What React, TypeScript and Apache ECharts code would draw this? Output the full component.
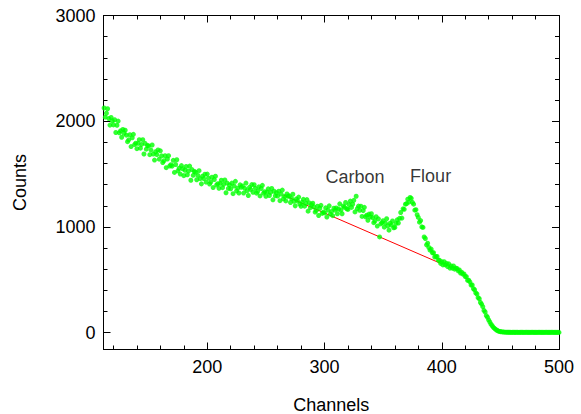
import React, { useEffect, useRef } from "react";
import * as echarts from "echarts";

const firstChannel = 112;
const counts: number[] = [
  // 112-119
  2125, 2038, 2075, 2118, 2025, 1963, 2035, 2003,
  // 120-129
  1965, 2014, 1893, 1962, 2001, 1890, 1909, 1848, 1922, 1886,
  // 130-139
  1915, 1868, 1806, 1824, 1872, 1760, 1843, 1876, 1779, 1792,
  // 140-149
  1740, 1790, 1825, 1745, 1780, 1825, 1690, 1790, 1735, 1770,
  // 150-159
  1765, 1683, 1727, 1775, 1689, 1632, 1711, 1684, 1728, 1641,
  // 160-169
  1720, 1672, 1609, 1626, 1673, 1560, 1642, 1674, 1576, 1588,
  // 170-179
  1575, 1630, 1515, 1590, 1635, 1530, 1555, 1500, 1580, 1550,
  // 180-189
  1485, 1536, 1572, 1493, 1529, 1575, 1441, 1542, 1488, 1524,
  // 190-199
  1517, 1446, 1487, 1532, 1456, 1407, 1480, 1457, 1498, 1423,
  // 200-209
  1500, 1460, 1406, 1424, 1470, 1372, 1448, 1480, 1396, 1409,
  // 210-219
  1365, 1411, 1442, 1371, 1403, 1444, 1323, 1414, 1364, 1397,
  // 220-229
  1361, 1414, 1314, 1386, 1431, 1341, 1366, 1321, 1398, 1375,
  // 230-239
  1387, 1320, 1365, 1414, 1342, 1297, 1374, 1355, 1400, 1328,
  // 240-249
  1399, 1365, 1319, 1337, 1379, 1293, 1363, 1393, 1319, 1333,
  // 250-259
  1290, 1331, 1360, 1297, 1326, 1363, 1256, 1337, 1294, 1323,
  // 260-269
  1292, 1338, 1248, 1310, 1348, 1266, 1288, 1246, 1312, 1290,
  // 270-279
  1294, 1231, 1268, 1309, 1242, 1199, 1264, 1245, 1282, 1215,
  // 280-289
  1195, 1234, 1261, 1196, 1223, 1258, 1149, 1228, 1183, 1210,
  // 290-299
  1224, 1188, 1140, 1156, 1196, 1108, 1176, 1204, 1128, 1140,
  // 300-309
  1132, 1180, 1093, 1158, 1199, 1120, 1145, 1106, 1176, 1158,
  // 310-319
  1179, 1124, 1169, 1218, 1159, 1124, 1197, 1186, 1231, 1172,
  // 320-329
  1165, 1211, 1244, 1184, 1214, 1251, 1142, 1290, 1173, 1197,
  // 330-339
  1157, 1196, 1099, 1154, 1185, 1096, 1111, 1062, 1121, 1093,
  // 340-349
  1124, 1088, 1040, 1056, 1096, 1008, 1076, 905, 1028, 1040,
  // 350-359
  1059, 997, 1035, 1077, 1011, 969, 1035, 1017, 1056, 992,
  // 360-369
  995, 1033, 1067, 1037, 1081, 1136, 1083, 1171, 1166, 1215,
  // 370-379
  1220, 1262, 1235, 1278, 1270, 1232, 1215, 1158, 1163, 1115,
  // 380-389
  1090, 1045, 1060, 1000, 995, 905, 890, 830, 845, 805,
  // 390-399
  780, 790, 755, 755, 715, 720, 720, 685, 685, 655,
  // 400-409
  670, 640, 670, 640, 655, 625, 650, 610, 630, 610,
  // 410-419
  630, 600, 610, 607, 585, 592, 564, 571, 553, 555,
  // 420-429
  530, 530, 495, 495, 480, 450, 450, 415, 405, 375,
  // 430-439
  365, 330, 320, 285, 270, 245, 210, 195, 160, 145,
  // 440-449
  120, 100, 80, 65, 50, 40, 30, 22, 16, 11,
  // 450-459
  9, 7, 6, 5, 4, 4, 3, 3, 3, 2,
  // 460-469
  2, 3, 2, 2, 3, 2, 2, 2, 3, 2,
  // 470-479
  2, 2, 3, 2, 2, 2, 2, 3, 2, 2,
  // 480-489
  2, 2, 2, 3, 2, 2, 2, 2, 2, 3,
  // 490-500
  2, 2, 2, 2, 3, 2, 2, 2, 2, 2, 2,
];

const baselineChannels = [265, 399];
const baselineCounts = [1300, 655];

const peakLabels = ["Carbon", "Flour"];
const peakLabelChannels = [326, 390.5];
const peakLabelCounts = [1470, 1478];

const xMajorTicks = [200, 300, 400, 500];
const xMinorTicks = [120, 140, 160, 180, 220, 240, 260, 280, 320, 340, 360, 380, 420, 440, 460, 480];
const yMajorTicks = [0, 1000, 2000, 3000];
const yMinorTicks = [200, 400, 600, 800, 1200, 1400, 1600, 1800, 2200, 2400, 2600, 2800];

const X_MIN = 111.5;
const X_MAX = 500;
const Y_MIN = -160;
const Y_MAX = 3000;

const FONT = "'Liberation Sans', Arial, Helvetica, sans-serif";

export default function App() {
  const ref = useRef<HTMLDivElement>(null);

  useEffect(() => {
    if (!ref.current) return;
    const chart = echarts.init(ref.current, undefined, { renderer: "svg" });

    const points = counts.map((c, i) => [firstChannel + i, c]);
    const baseline = baselineChannels.map((ch, i) => [ch, baselineCounts[i]]);
    const labels = peakLabels.map((name, i) => ({
      value: [peakLabelChannels[i], peakLabelCounts[i]],
      name,
    }));

    const lineStyle = { color: "#000", width: 1 };
    const plain = (v: number) => String(v);

    const mkX = (position: string, major: boolean, showLine: boolean, withLabel: boolean) => ({
      type: "value",
      position,
      min: X_MIN,
      max: X_MAX,
      gridIndex: 0,
      axisLine: { show: showLine, onZero: false, lineStyle },
      axisTick: {
        show: true,
        inside: true,
        length: major ? 7 : 4,
        customValues: major ? xMajorTicks : xMinorTicks,
        lineStyle,
      },
      axisLabel: withLabel
        ? {
            show: true,
            customValues: xMajorTicks,
            formatter: plain,
            fontSize: 18,
            color: "#000",
            fontFamily: FONT,
            margin: 8,
          }
        : { show: false },
      splitLine: { show: false },
      ...(withLabel
        ? {
            name: "Channels",
            nameLocation: "middle",
            nameGap: 46,
            nameTextStyle: { fontSize: 18, color: "#000", fontFamily: FONT },
          }
        : {}),
    });

    const mkY = (position: string, major: boolean, showLine: boolean, withLabel: boolean) => ({
      type: "value",
      position,
      min: Y_MIN,
      max: Y_MAX,
      gridIndex: 0,
      axisLine: { show: showLine, onZero: false, lineStyle },
      axisTick: {
        show: true,
        inside: true,
        length: major ? 7 : 4,
        customValues: major ? yMajorTicks : yMinorTicks,
        lineStyle,
      },
      axisLabel: withLabel
        ? {
            show: true,
            customValues: yMajorTicks,
            formatter: plain,
            fontSize: 18,
            color: "#000",
            fontFamily: FONT,
            margin: 8,
          }
        : { show: false },
      splitLine: { show: false },
      ...(withLabel
        ? {
            name: "Counts",
            nameLocation: "middle",
            nameGap: 75,
            nameRotate: 90,
            nameTextStyle: { fontSize: 18, color: "#000", fontFamily: FONT },
          }
        : {}),
    });

    chart.setOption({
      animation: false,
      backgroundColor: "#fff",
      grid: {
        left: 103.5,
        right: 22,
        top: 15.5,
        bottom: 64.5,
        containLabel: false,
        outerBoundsMode: "none",
      },
      xAxis: [
        mkX("bottom", true, true, true),
        mkX("bottom", false, false, false),
        mkX("top", true, true, false),
        mkX("top", false, false, false),
      ],
      yAxis: [
        mkY("left", true, true, true),
        mkY("left", false, false, false),
        mkY("right", true, true, false),
        mkY("right", false, false, false),
      ],
      series: [
        {
          type: "line",
          data: baseline,
          xAxisIndex: 0,
          yAxisIndex: 0,
          symbol: "none",
          lineStyle: { color: "#ff0000", width: 1 },
          z: 1,
        },
        {
          type: "scatter",
          data: points,
          xAxisIndex: 0,
          yAxisIndex: 0,
          symbol: "circle",
          symbolSize: 5,
          itemStyle: { color: "#00ff00" },
          z: 2,
        },
        {
          type: "scatter",
          data: labels,
          xAxisIndex: 0,
          yAxisIndex: 0,
          symbolSize: 0,
          silent: true,
          itemStyle: { color: "transparent" },
          label: {
            show: true,
            position: "inside",
            formatter: (p: any) => p.name,
            fontSize: 18,
            color: "#000",
            textBorderWidth: 0,
            textBorderColor: "transparent",
            fontFamily: FONT,
          },
          z: 3,
        },
      ],
    });

    return () => chart.dispose();
  }, []);

  return (
    <div
      ref={ref}
      style={{ position: "fixed", left: 0, top: 0, width: 581, height: 414, background: "#fff" }}
    />
  );
}
